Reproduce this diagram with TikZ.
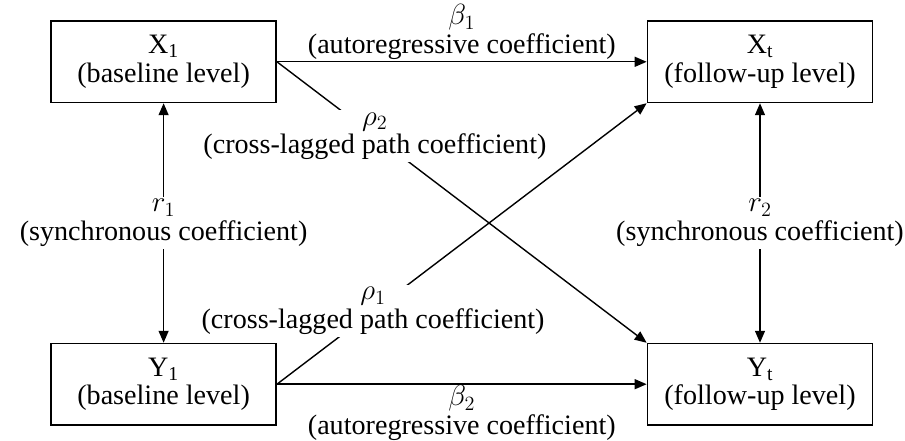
\documentclass[tikz,border=0pt]{standalone}
\usepackage{fontspec}
\setmainfont{Liberation Serif}
\usetikzlibrary{arrows.meta}

\begin{document}
\begin{tikzpicture}[>={Triangle[length=3mm,width=2.5mm]},line width=1pt,
  font=\fontsize{20}{20.5}\selectfont,
  level/.style={draw,line width=1.2pt,minimum width=5.625cm,minimum height=2.03cm,align=center,inner sep=2pt},
  pathlabel/.style={align=center,inner sep=1pt},
  coef/.style={pathlabel,fill=white,inner sep=1.5pt}]
\useasboundingbox (0,0) rectangle (22.625,11.025);
\node[level] (x1) at (4.09,9.48) {X\textsubscript{1}\\(baseline level)};
\node[level] (xt) at (19,9.48) {X\textsubscript{t}\\(follow-up level)};
\node[level] (y1) at (4.09,1.42) {Y\textsubscript{1}\\(baseline level)};
\node[level] (yt) at (19,1.42) {Y\textsubscript{t}\\(follow-up level)};
% autoregressive paths
\draw[->] (x1) -- (xt) node[pathlabel,midway,above]{$\beta_1$\\(autoregressive coefficient)};
\draw[->] (y1) -- (yt) node[pathlabel,midway,below,inner sep=0.5pt]{$\beta_2$\\(autoregressive coefficient)};
% cross-lagged paths
\draw[->] (x1.east) -- (yt.north west) node[coef,pos=0.265]{$\rho_2$\\(cross-lagged path coefficient)};
\draw[->] (y1.east) -- (xt.south west) node[coef,pos=0.26]{$\rho_1$\\(cross-lagged path coefficient)};
% synchronous
\draw[<->] (x1) -- (y1) node[coef,midway]{$r_1$\\(synchronous coefficient)};
\draw[<->] (xt) -- (yt) node[coef,midway]{$r_2$\\(synchronous coefficient)};
\end{tikzpicture}
\end{document}
